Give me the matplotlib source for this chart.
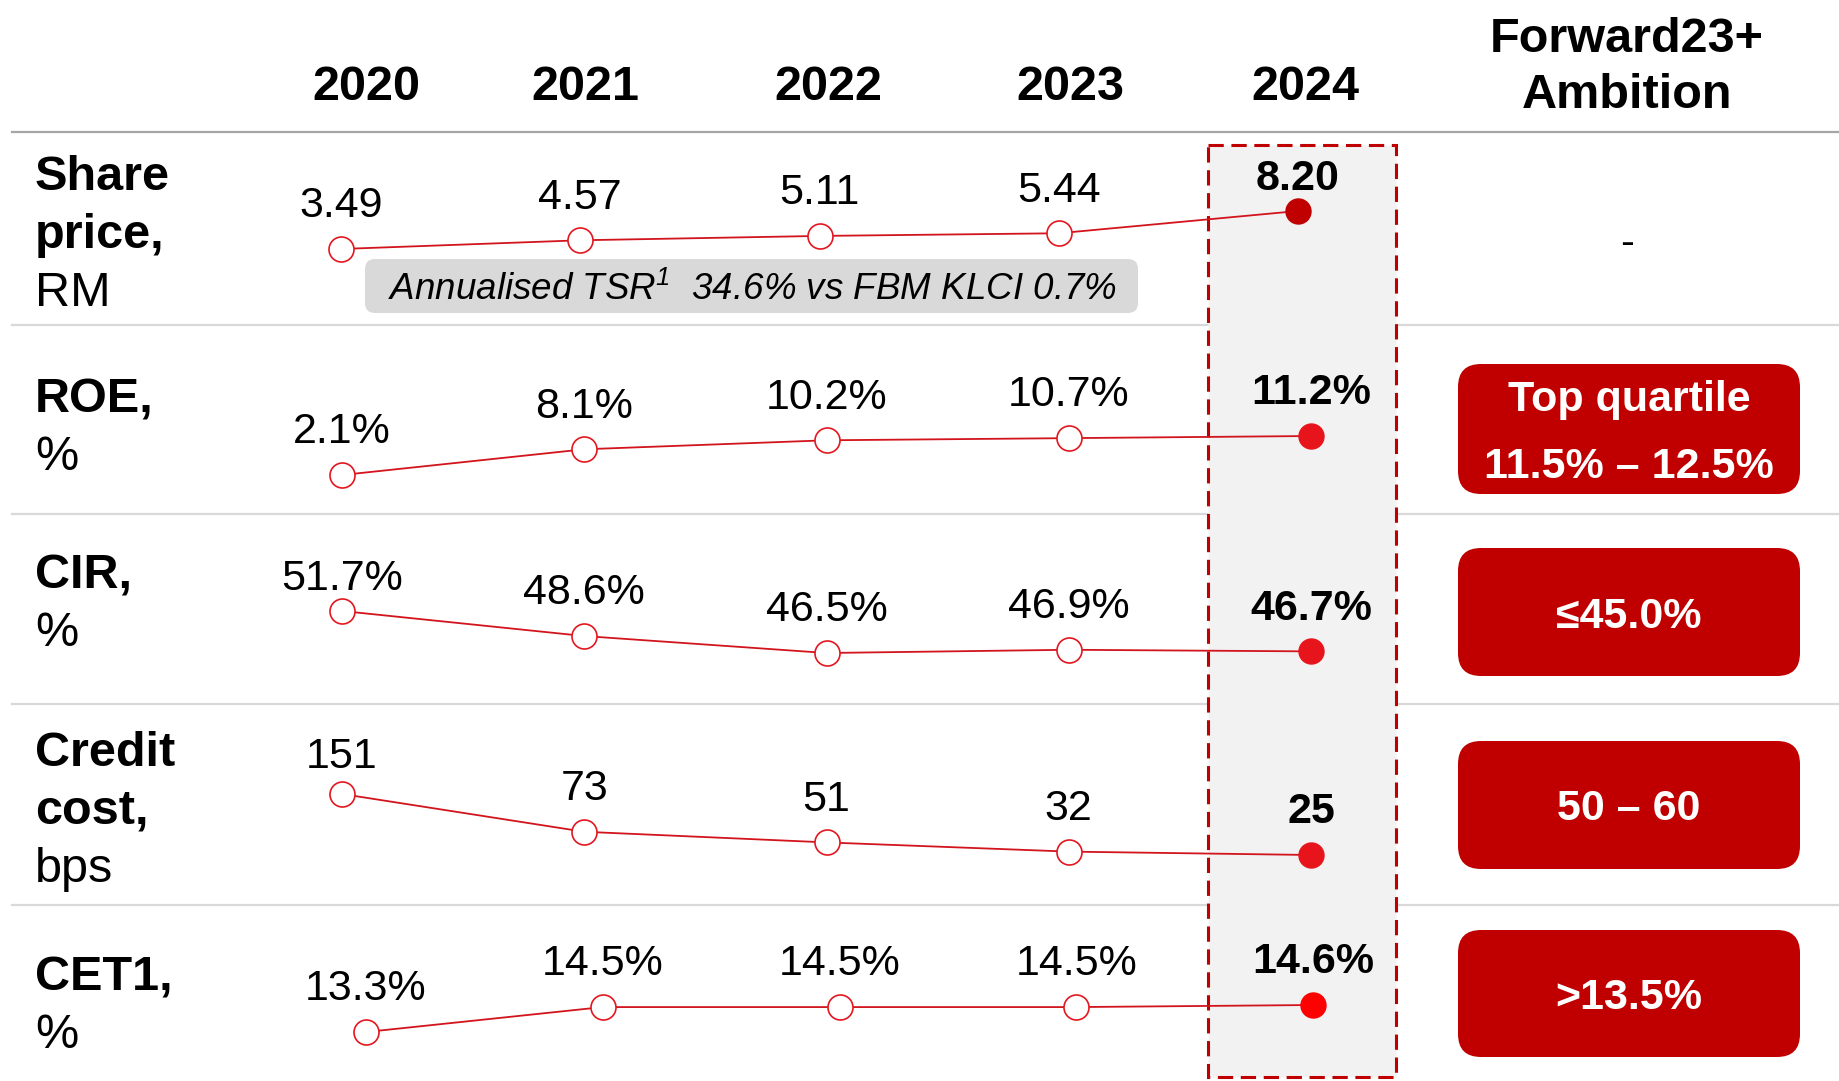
import matplotlib.pyplot as plt
from matplotlib.patches import FancyBboxPatch, Rectangle

plt.rcParams['font.family'] = ['Liberation Sans', 'DejaVu Sans']

# data
years = ['2020', '2021', '2022', '2023', '2024']
share_price = [3.49, 4.57, 5.11, 5.44, 8.20]
roe = [2.1, 8.1, 10.2, 10.7, 11.2]
cir = [51.7, 48.6, 46.5, 46.9, 46.7]
credit_cost = [151, 73, 51, 32, 25]
cet1 = [13.3, 14.5, 14.5, 14.5, 14.6]

share_labels = ['3.49', '4.57', '5.11', '5.44', '8.20']
roe_labels = ['2.1%', '8.1%', '10.2%', '10.7%', '11.2%']
cir_labels = ['51.7%', '48.6%', '46.5%', '46.9%', '46.7%']
credit_labels = ['151', '73', '51', '32', '25']
cet1_labels = ['13.3%', '14.5%', '14.5%', '14.5%', '14.6%']

row_titles = [['Share', 'price,'], ['ROE,'], ['CIR,'], ['Credit', 'cost,'], ['CET1,']]
row_units = ['RM', '%', '%', 'bps', '%']
ambitions = ['-', 'Top quartile\n11.5% \u2013 12.5%', '\u226445.0%', '50 \u2013 60', '>13.5%']
ambition_header = 'Forward23+\nAmbition'
tsr_note = 'Annualised TSR$^{\\mathregular{1}}$  34.6% vs FBM KLCI 0.7%'

W, H = 1839, 1081
RED = '#C00000'

# layout of each row (pixels from top-left)
rows = [
    dict(vals=share_price, labels=share_labels, x0=341, x1=1298, ylo=249, yhi=211,
         title_y=172, box=None, last='#C00000'),
    dict(vals=roe, labels=roe_labels, x0=342, x1=1311, ylo=475, yhi=436,
         title_y=395, box=(364, 494), last='#E8141C'),
    dict(vals=cir, labels=cir_labels, x0=342, x1=1311, ylo=653, yhi=611,
         title_y=571, box=(548, 676), last='#E8141C'),
    dict(vals=credit_cost, labels=credit_labels, x0=342, x1=1311, ylo=855, yhi=794,
         title_y=748, box=(741, 869), last='#E8141C'),
    dict(vals=cet1, labels=cet1_labels, x0=366, x1=1313, ylo=1032, yhi=1005,
         title_y=973, box=(930, 1057), last='#FF0000'),
]
label_shift = {(0, 4): 26, (2, 0): 26, (3, 0): 30}


def px(pt):
    return pt * 100 / 72


fig = plt.figure(figsize=(W / 100, H / 100), dpi=100)
bg = fig.add_axes([0, 0, 1, 1])
bg.set_xlim(0, W)
bg.set_ylim(H, 0)
bg.axis('off')


def txt(x, yc, s, size, **kw):
    # yc is the visual centre of the capitals
    bg.text(x, yc + 0.36 * px(size), s, fontsize=size, va='baseline', **kw)


# header
for yr, xc in zip(years, [366, 585, 828, 1070, 1305]):
    txt(xc, 82, yr, 35, ha='center', fontweight='bold')
for i, line in enumerate(ambition_header.split('\n')):
    txt(1627, 35 + 56 * i, line, 35, ha='center', fontweight='bold')

# separators
bg.plot([12, W], [132, 132], color='#A6A6A6', lw=1.6)
for y in [325, 514, 704, 905]:
    bg.plot([12, W], [y, y], color='#D9D9D9', lw=1.6)

# highlighted 2024 column
bg.add_patch(Rectangle((1208, 145), 188, 932, facecolor='#F2F2F2',
                       edgecolor=RED, lw=2.2, ls=(0, (5, 2.5)), zorder=3))

# TSR note
bg.add_patch(FancyBboxPatch((365, 259), 773, 54, boxstyle='round,pad=0,rounding_size=10',
                            facecolor='#D9D9D9', edgecolor='none'))
txt(752, 287, tsr_note, 26.5, ha='center', style='italic')

for r, row in enumerate(rows):
    # row titles
    lines = row_titles[r] + [row_units[r]]
    for i, line in enumerate(lines):
        weight = 'bold' if i < len(row_titles[r]) else 'normal'
        txt(35, row['title_y'] + 58 * i, line, 35, ha='left', fontweight=weight)

    # ambition boxes
    if row['box'] is None:
        txt(1627, 240, ambitions[r], 30, ha='center')
    else:
        top, bot = row['box']
        bg.add_patch(FancyBboxPatch((1458, top), 342, bot - top,
                                    boxstyle='round,pad=0,rounding_size=23',
                                    facecolor=RED, edgecolor='none'))
        amb = ambitions[r].split('\n')
        mid = (top + bot) / 2
        for i, line in enumerate(amb):
            yc = mid + (i - (len(amb) - 1) / 2) * 66
            txt(1629, yc, line, 31, ha='center', color='white', fontweight='bold')

    # line chart for the row
    ax = fig.add_axes([row['x0'] / W, 1 - row['ylo'] / H,
                       (row['x1'] - row['x0']) / W, (row['ylo'] - row['yhi']) / H])
    ax.set_xlim(0, len(years) - 1)
    ax.set_ylim(min(row['vals']), max(row['vals']))
    ax.axis('off')
    xs = list(range(len(years)))
    ax.plot(xs, row['vals'], color='#D2141C', lw=1.3, clip_on=False, zorder=2)
    ax.plot(xs[:-1], row['vals'][:-1], 'o', ms=18, mfc='white', mec='#E3171F',
            mew=1.2, clip_on=False, zorder=3)
    ax.plot(xs[-1:], row['vals'][-1:], 'o', ms=18, mfc=row['last'], mec=row['last'],
            clip_on=False, zorder=3)
    for i, (v, lab) in enumerate(zip(row['vals'], row['labels'])):
        bold = i == len(years) - 1
        size = 31
        off = label_shift.get((r, i), 34) - 0.36 * size
        ax.annotate(lab, (i, v), xytext=(0, off), textcoords='offset points',
                    ha='center', va='baseline', fontsize=size,
                    fontweight='bold' if bold else 'normal', annotation_clip=False)

fig.savefig('out.png', dpi=100)
